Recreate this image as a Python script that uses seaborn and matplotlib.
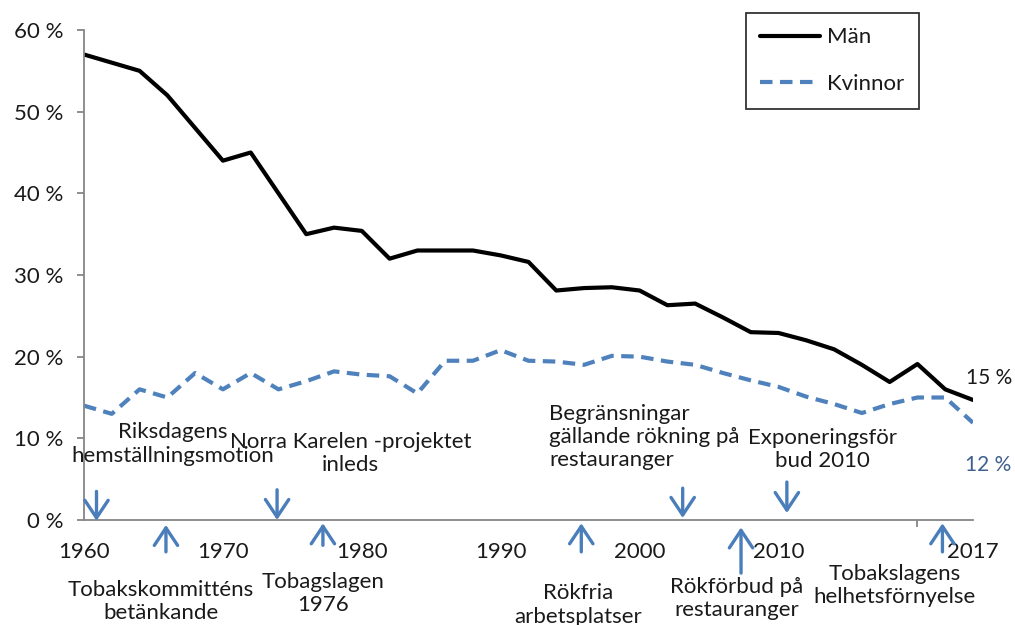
import numpy as np
import pandas as pd
import matplotlib
matplotlib.use("Agg")
import matplotlib.pyplot as plt
import seaborn as sns

# ---------------- data ----------------
periods = [str(y) for y in range(1960, 2011, 2)] + [str(y) for y in range(2011, 2018)]
men = [57, 56, 55, 52, 48, 44, 45, 40, 35, 35.8, 35.4, 32, 33, 33, 33, 32.4,
       31.6, 28.1, 28.4, 28.5, 28.1, 26.3, 26.5, 24.8, 23, 22.9,
       22, 20.9, 19, 16.9, 19.1, 16, 14.7]
women = [14, 13, 16, 15, 18, 16, 18, 16, 17, 18.2, 17.8, 17.6, 15.5, 19.5, 19.5, 20.8,
         19.5, 19.4, 19.0, 20.1, 20.0, 19.4, 19.0, 18.0, 17.1, 16.3,
         15.1, 14.2, 13.1, 14.2, 15.0, 15.0, 11.9]
series_names = ["Män", "Kvinnor"]
x_tick_labels = ["1960", "1970", "1980", "1990", "2000", "2010", "2017"]
y_ticks = [0, 10, 20, 30, 40, 50, 60]
y_tick_labels = ["0 %", "10 %", "20 %", "30 %", "40 %", "50 %", "60 %"]
end_labels = ["15 %", "12 %"]

events_down = [
    "Riksdagens\nhemställningsmotion",
    "Norra Karelen -projektet\ninleds",
    "Begränsningar\ngällande rökning på\nrestauranger",
    "Exponeringsför\nbud 2010",
]
events_up = [
    "Tobakskommitténs\nbetänkande",
    "Tobagslagen\n1976",
    "Rökfria\narbetsplatser",
    "Rökförbud på\nrestauranger",
    "Tobakslagens\nhelhetsförnyelse",
]

# ---------------- frame ----------------
n = len(periods)
df = pd.DataFrame({
    "pos": list(range(n)) * 2,
    "period": periods * 2,
    "value": men + women,
    "serie": [series_names[0]] * n + [series_names[1]] * n,
})

sns.set_theme(style="white")
plt.rcParams["font.family"] = ["Lato", "DejaVu Sans"]

BLUE = "#4F81BD"
ARROW = "#4A7EBB"
GREY = "#868686"
TXT = "#1a1a1a"
FS = 16

fig = plt.figure(figsize=(10.15, 6.25), dpi=100)
ax = fig.add_axes([84 / 1015, 1 - 520 / 625, (973 - 84) / 1015, (520 - 30) / 625])

sns.lineplot(data=df, x="pos", y="value", hue="serie", style="serie",
             palette={series_names[0]: "black", series_names[1]: BLUE},
             dashes={series_names[0]: "", series_names[1]: (3, 1.8)},
             linewidth=3, ax=ax, legend=True)

ax.set_xlim(0, n - 1)
ax.set_ylim(0, 60)
ax.set_xlabel("")
ax.set_ylabel("")

for s in ["top", "right"]:
    ax.spines[s].set_visible(False)
for s in ["left", "bottom"]:
    ax.spines[s].set_color(GREY)
    ax.spines[s].set_linewidth(1.3)

# y axis
ax.set_yticks(y_ticks)
ax.set_yticklabels(y_tick_labels, fontsize=FS, color=TXT)
ax.tick_params(axis="y", length=5, width=1.3, color=GREY, pad=10, left=True)

# x axis: label positions (2-year steps up to 2010, then yearly)
label_pos = [periods.index(l) for l in x_tick_labels]
ax.set_xticks(label_pos)
ax.set_xticklabels(x_tick_labels, fontsize=FS, color=TXT)
ax.tick_params(axis="x", which="major", length=0, pad=16)
ax.set_xticks(list(range(0, n, 5)), minor=True)
ax.tick_params(axis="x", which="minor", length=5, width=1.3, color=GREY, bottom=True)

# legend
h, l = ax.get_legend_handles_labels()
leg = ax.legend(h, l, loc="upper left", bbox_to_anchor=(746 / 1015, 1 - 13 / 625),
                bbox_transform=fig.transFigure, fontsize=FS, frameon=True,
                fancybox=False, edgecolor="black", handlelength=2.7,
                labelspacing=1.2, borderpad=0.65, borderaxespad=0,
                handletextpad=0.3)
leg.get_frame().set_linewidth(1.3)
for line in leg.get_lines():
    line.set_linewidth(3)
for t in leg.get_texts():
    t.set_color(TXT)

# end labels
ax.text(31.75, 17.4, end_labels[0], fontsize=15, color=TXT, va="center",
        ha="left", clip_on=False)
ax.text(31.7, 6.7, end_labels[1], fontsize=15, color="#3F5F8F", va="center",
        ha="left", clip_on=False)

# event arrows and texts
aprops = dict(arrowstyle="->,head_length=0.45,head_width=0.3", color=ARROW, lw=2.4,
              mutation_scale=28, shrinkA=0, shrinkB=0)

down_specs = [  # (arrow x, tail y, tip y, text x, text y, ha)
    (0.45, 3.5, -0.1, 3.2, 9.3, "center"),
    (6.95, 3.7, 0.0, 9.6, 8.1, "center"),
    (21.55, 3.9, 0.25, 16.75, 10.2, "left"),
    (25.3, 4.65, 0.85, 26.57, 8.6, "center"),
]
up_specs = [
    (2.95, -3.9, -0.6, 2.78, -10.0, "center"),
    (8.6, -3.1, -0.4, 8.6, -9.0, "center"),
    (17.9, -3.9, -0.4, 17.8, -10.4, "center"),
    (23.65, -6.5, -0.9, 23.5, -9.6, "center"),
    (30.9, -3.9, -0.4, 29.17, -8.0, "center"),
]

for txt, (ax_x, ty, hy, tx, tyy, ha) in zip(events_down, down_specs):
    ax.annotate("", xy=(ax_x, hy), xytext=(ax_x, ty), arrowprops=aprops,
                annotation_clip=False)
    ax.text(tx, tyy, txt, fontsize=FS, ha=ha, va="center", ma=ha,
            linespacing=1.2, color=TXT, clip_on=False)

for txt, (ax_x, ty, hy, tx, tyy, ha) in zip(events_up, up_specs):
    ax.annotate("", xy=(ax_x, hy), xytext=(ax_x, ty), arrowprops=aprops,
                annotation_clip=False)
    ax.text(tx, tyy, txt, fontsize=FS, ha=ha, va="center", ma=ha,
            linespacing=1.2, color=TXT, clip_on=False)

fig.savefig("out.png", dpi=100)
